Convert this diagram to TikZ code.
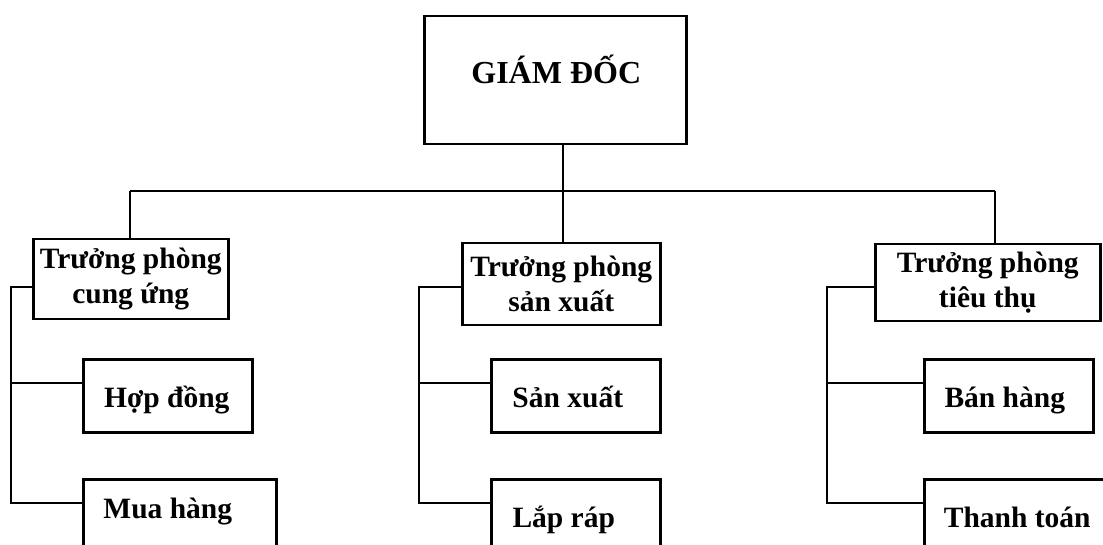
\documentclass[tikz,border=0pt]{standalone}
\usepackage{fontspec}
\setmainfont{Liberation Serif}
\begin{document}
\begin{tikzpicture}[x=1pt,y=-1pt,line width=2.5pt,
  box/.style={draw,rectangle,inner sep=0pt,anchor=north west,align=center,
    font=\bfseries\fontsize{29.5}{35}\selectfont},
  caption/.style={anchor=base,inner sep=0pt,font=\bfseries\fontsize{29.5}{35}\selectfont},
  link/.style={draw,line width=2.5pt}]
\useasboundingbox (0,0) rectangle (1103,545);
\clip (0,0) rectangle (1103,545);

% top level
\node[box,minimum width=262,minimum height=128] (gd) at (423,15) {};
\node[caption,font=\bfseries\fontsize{32}{36}\selectfont] (gd-t)
  at ([shift={(1,3)}]gd.center) {GIÁM ĐỐC};

% department heads
\node[box,minimum width=195,minimum height=80]  (tp1) at (32,238)  {Trưởng phòng\\cung ứng};
\node[box,minimum width=198,minimum height=82]  (tp2) at (461,242) {Trưởng phòng\\sản xuất};
\node[box,minimum width=225,minimum height=77]  (tp3) at (874,243) {Trưởng phòng\\tiêu thụ};

% units (the lower row runs past the bottom edge)
\node[box,minimum width=169,minimum height=73]  (hd) at (82,358)  {};
\node[box,minimum width=193,minimum height=100] (mh) at (82,478)  {};
\node[box,minimum width=169,minimum height=73]  (sx) at (490,358) {};
\node[box,minimum width=169,minimum height=100] (lr) at (490,478) {};
\node[box,minimum width=169,minimum height=73]  (bh) at (923,358) {};
\node[box,minimum width=277,minimum height=100] (tt) at (923,478) {};

\node[caption] (hd-t) at ([shift={(-1,11.5)}]hd.center)   {Hợp đồng};
\node[caption] (mh-t) at ([shift={(-12,-11)}]mh.center)   {Mua hàng};
\node[caption] (sx-t) at ([shift={(-8,11.5)}]sx.center)   {Sản xuất};
\node[caption] (lr-t) at ([shift={(-12,-2)}]lr.center)    {Lắp ráp};
\node[caption] (bh-t) at ([shift={(-4,11.5)}]bh.center)   {Bán hàng};
\node[caption] (tt-t) at ([shift={(-45.5,-2)}]tt.center)  {Thanh toán};

% main bus
\coordinate (mid)  at (563,191);
\coordinate (busL) at (130,191);
\coordinate (busR) at (995,191);
\draw[link] (mid |- gd.south) -- (mid);
\draw[link] (busL) -- (busR);
\draw[link] (busL) -- (busL |- tp1.north);
\draw[link] (mid) -- (mid |- tp2.north);
\draw[link] (busR) -- (busR |- tp3.north);

% branch buses
\coordinate (a0) at (11,287);  \coordinate (a1) at (11,383);  \coordinate (a2) at (11,503);
\coordinate (b0) at (419,287); \coordinate (b1) at (419,383); \coordinate (b2) at (419,503);
\coordinate (c0) at (827,287); \coordinate (c1) at (827,383); \coordinate (c2) at (827,503);

\draw[link] (a0 -| tp1.west) -- (a0) -- (a2) -- (a2 -| mh.west);
\draw[link] (a1) -- (a1 -| hd.west);
\draw[link] (b0 -| tp2.west) -- (b0) -- (b2) -- (b2 -| lr.west);
\draw[link] (b1) -- (b1 -| sx.west);
\draw[link] (c0 -| tp3.west) -- (c0) -- (c2) -- (c2 -| tt.west);
\draw[link] (c1) -- (c1 -| bh.west);
\end{tikzpicture}
\end{document}
